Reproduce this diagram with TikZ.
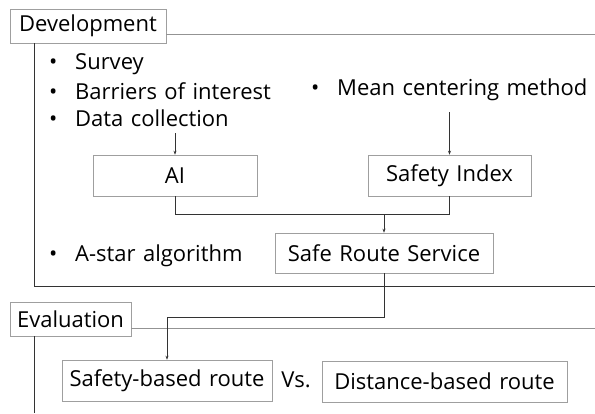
\documentclass[tikz,border=0pt]{standalone}
\usepackage{fontspec}
\setmainfont{Open Sans}[WordSpace=1.3]
\usetikzlibrary{arrows.meta, positioning, calc}

\tikzset{
	box/.style={draw=gray!75, line width=0.6pt, inner sep=0pt, align=center},
	item/.style={anchor=west, inner sep=0pt},
	conn/.style={draw=black!80, line width=0.6pt},
	arr/.style={conn, -{Stealth[length=4pt, width=3pt]}}
}
\newcommand{\bul}[1]{\makebox[27pt][l]{\hspace{1pt}\textbullet}#1}

\begin{document}
\begin{tikzpicture}[x=1pt, y=-1pt, every node/.style={font=\fontsize{22}{24}\selectfont}]
			\useasboundingbox (0,0) rectangle (595,413);
			
			% Development part
			\node[box, minimum width=156pt, minimum height=34pt] (dev) at (88,26) {Development};
			\node[item] (survey) at (48,64) {\bul{Survey}};
			\node[item] (barrier) at (48,91) {\bul{Barriers of interest}};
			\node[item] (collect) at (48,118) {\bul{Data collection}};
			\node[item] (mean) at (310,90) {\bul{Mean centering method}};
			\node[item] (astar) at (48,256) {\bul{A-star algorithm}};
			
			\node[box, minimum width=164pt, minimum height=41pt] (ai) at (175,175.5) {AI};
			\node[box, minimum width=163pt, minimum height=41pt] (si) at (449.5,175.5) {Safety Index};
			\node[box, minimum width=218pt, minimum height=40pt] (srs) at (384,253) {Safe Route Service};
			
			\coordinate (devR) at (595,34);
			\coordinate (devB) at (34,286);
			\coordinate (devE) at (595,286);
			\draw[conn, draw=gray!85] (dev.east |- devR) -- (devR);
			\draw[conn] (devB |- dev.south) -- (devB) -- (devE);
			
			\draw[arr] (ai.north |- 0,133) -- (ai.north);
			\draw[arr] (si.north |- 0,112) -- (si.north);
			\coordinate (join) at (srs.north |- 0,214);
			\draw[conn] (ai.south) |- (join);
			\draw[conn] (si.south) |- (join);
			\draw[arr] (join) -- (srs.north);
			
			% Evaluation part
			\node[box, minimum width=121pt, minimum height=34pt] (eval) at (70.5,319) {Evaluation};
			\node[box, minimum width=210pt, minimum height=41pt] (sb) at (167,380.5) {Safety-based route};
			\node[inner sep=0pt] (vs) at (296,380) {Vs.};
			\node[box, minimum width=245pt, minimum height=41pt] (db) at (444.5,381.5) {Distance-based route};
			
			\coordinate (evalR) at (595,328);
			\coordinate (evalB) at (34,413);
			\draw[conn, draw=gray!85] (eval.east |- evalR) -- (evalR);
			\draw[conn] (evalB |- eval.south) -- (evalB);
			
			\coordinate (turn) at (srs.south |- 0,317);
			\draw[arr] (srs.south) -- (turn) -| (sb.north);
		\end{tikzpicture}
\end{document}
